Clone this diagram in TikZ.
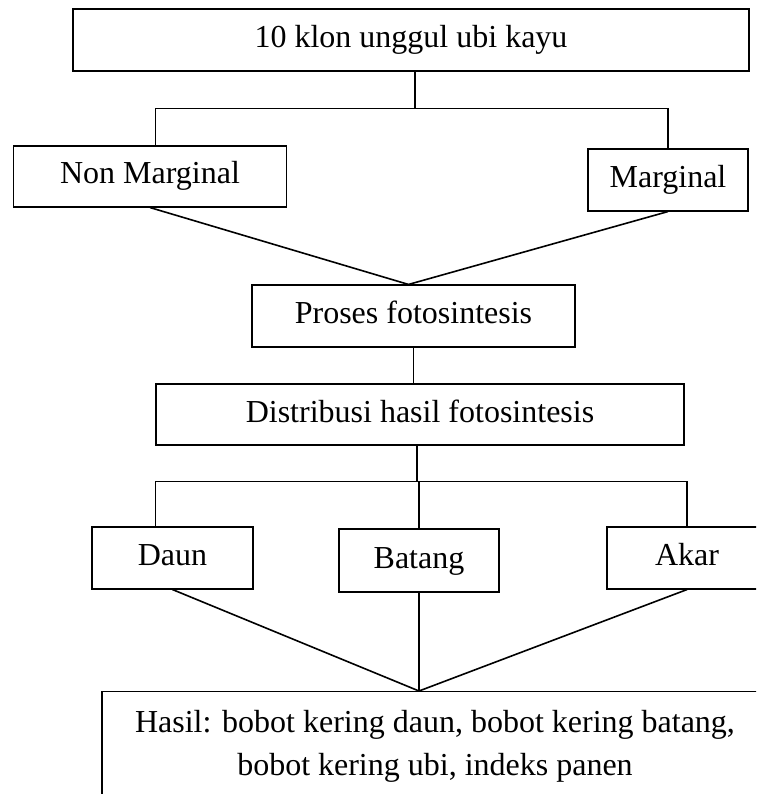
\documentclass[tikz,border=0pt]{standalone}
\usepackage{fontspec}
\setmainfont{Liberation Serif}
\usetikzlibrary{calc}
\tikzset{
  stage/.style={
    rectangle, draw=black, line width=1.1pt,
    minimum height=62pt, inner sep=0pt,
    text height=22pt, text depth=7pt,
    font=\fontsize{32}{43}\selectfont,
  },
  result/.style={
    rectangle, draw=black, line width=1.1pt,
    minimum width=666pt, minimum height=110pt,
    align=center, font=\fontsize{32}{43}\selectfont,
  },
  conn/.style={line width=1.6pt, color=black},
}

\begin{document}
\begin{tikzpicture}[x=1pt, y=-1pt]
  \clip (0,0) rectangle (756,794);

  \node[stage, minimum width=676pt] (top) at (411,40) {10 klon unggul ubi kayu};
  \node[stage, minimum width=273pt, minimum height=61pt] (nonmarg) at (150,176.5) {Non Marginal};
  \node[stage, minimum width=160pt] (marg) at (668,180) {Marginal};
  \node[stage, minimum width=323pt] (proses) at (413.5,316) {Proses fotosintesis};
  \node[stage, minimum width=528pt, minimum height=61pt] (distrib) at (420,414.5) {Distribusi hasil fotosintesis};
  \node[stage, minimum width=161pt] (daun) at (172.5,558) {Daun};
  \node[stage, minimum width=160pt, minimum height=63pt] (batang) at (419,560.5) {Batang};
  \node[stage, minimum width=160pt] (akar) at (687,558) {Akar};
  \node[result, anchor=north] (hasil) at (435,691) {Hasil: bobot kering daun, bobot kering batang,\\ bobot kering ubi, indeks panen};

  \coordinate (split1) at ($(top.south)+(4,37)$);
  \coordinate (split2) at ($(distrib.south)+(-3,36)$);
  \coordinate (tip) at (hasil.north -| batang.south);

  \draw[conn] (top.south -| split1) -- (split1);
  \draw[conn] (nonmarg.north -| distrib.west) |- (split1) -| (marg.north);
  \draw[conn] (nonmarg.south) -- ($(proses.north)+(-5,0)$);
  \draw[conn] (marg.south) -- ($(proses.north)+(-5,0)$);
  \draw[conn] (proses.south) -- (proses.south |- distrib.north);
  \draw[conn] (distrib.south -| split2) -- (split2);
  \draw[conn] (daun.north -| distrib.west) |- (split2) -| (akar.north);
  \draw[conn] (split2 -| batang.north) -- (batang.north);
  \draw[conn] (daun.south) -- (tip);
  \draw[conn] (batang) -- (tip);
  \draw[conn] (akar.south) -- (tip);

\end{tikzpicture}
\end{document}
